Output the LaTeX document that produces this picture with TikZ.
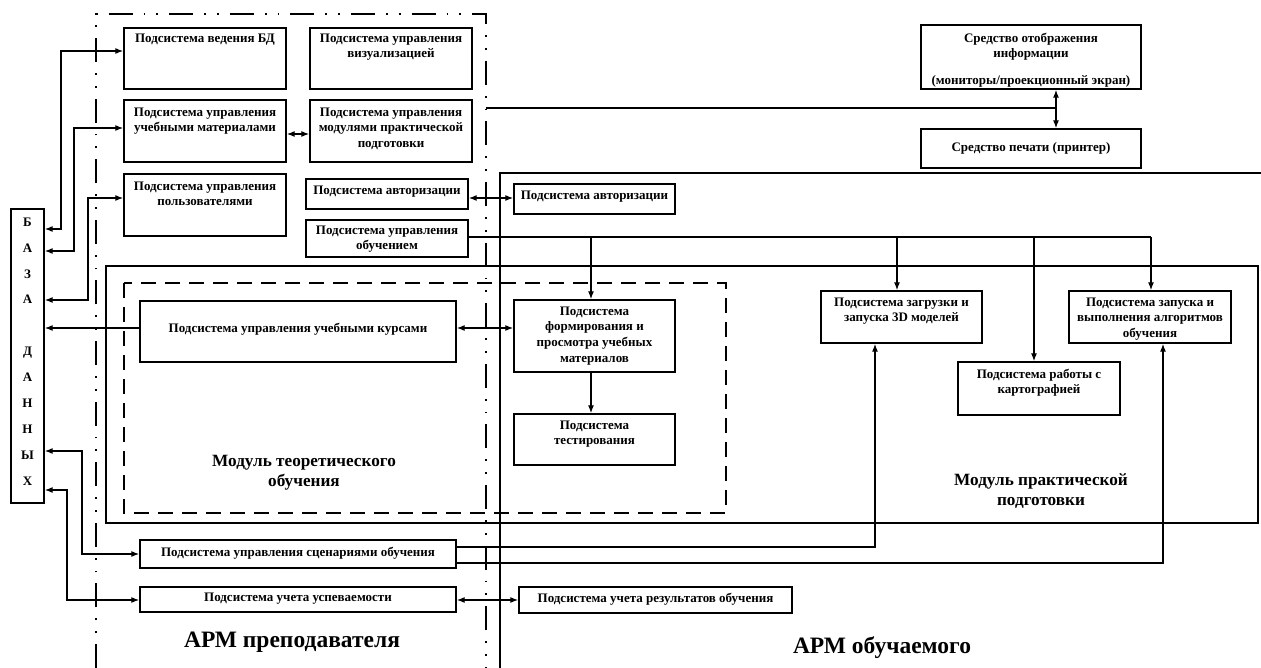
\documentclass[tikz,border=0pt]{standalone}
\usepackage{fontspec}
\setmainfont{Liberation Serif}
\usetikzlibrary{arrows.meta}
\tikzset{
  box/.style={draw, line width=1.4pt, inner sep=0pt},
  txt/.style={font=\bfseries\fontsize{13}{15.7}\selectfont, align=center, inner sep=0pt},
  big/.style={font=\bfseries\fontsize{17.2}{20}\selectfont, align=center, inner sep=0pt},
  huge/.style={font=\bfseries\fontsize{23.5}{28}\selectfont, inner sep=0pt},
  conn/.style={line width=1.25pt, >={Latex[length=8pt,width=6pt]}},
  dashdotframe/.style={line width=1.3pt, dash pattern=on 24pt off 11pt on 1.8pt off 11pt on 1.8pt off 11pt},
  dashframe/.style={line width=1.6pt, dash pattern=on 15pt off 9pt},
  thickframe/.style={line width=2.8pt}
}
\newcommand\bx[7]{%
  \node[box, minimum width={(#4-#2)*1pt}, minimum height={(#5-#3)*1pt}] (#1) at ({(#2+#4)/2},{(#3+#5)/2}) {};
  \node[txt, anchor=north] (#1-t) at ({(#2+#4)/2},{#6-5.5}) {#7};}
\begin{document}
\begin{tikzpicture}[x=1pt, y=-1pt]
\useasboundingbox[fill=white] (0,0) rectangle (1261,668);

% frames
\draw[dashdotframe] (96,668) -- (96,14) -- (486,14) -- (486,668);
\draw[thickframe] (500,668) -- (500,173) -- (1261,173);
\draw[thickframe] (106,266) rectangle (1258,523);
\draw[dashframe] (124,283) rectangle (726,513);

% database
\node[box, minimum width=33pt, minimum height=294pt] (db) at (27.5,356) {};
\node[txt, anchor=north, font=\bfseries\fontsize{13}{25.9}\selectfont] (db-t) at (27.5,217.5)
  {Б\\А\\З\\А\\ \\Д\\А\\Н\\Н\\Ы\\Х};

% teacher boxes
\bx{bd}{124}{28}{286}{89}{39}{Подсистема ведения БД}
\bx{vis}{310}{28}{472}{89}{39}{Подсистема управления\\визуализацией}
\bx{mat}{124}{100}{286}{162}{113}{Подсистема управления\\учебными материалами}
\bx{mod}{310}{100}{472}{162}{113}{Подсистема управления\\модулями практической\\подготовки}
\bx{usr}{124}{174}{286}{236}{187}{Подсистема управления\\пользователями}
\bx{authL}{306}{179}{468}{209}{191}{Подсистема авторизации}
\bx{uo}{306}{220}{468}{257}{231}{Подсистема управления\\обучением}
\bx{crs}{140}{301}{456}{362}{328}{Подсистема управления учебными курсами}
\bx{scn}{140}{540}{456}{568}{552}{Подсистема управления сценариями обучения}
\bx{usp}{140}{587}{456}{612}{598}{Подсистема учета успеваемости}

% output devices
\bx{disp}{921}{25}{1141}{89}{38}{Средство отображения\\информации\\[11pt](мониторы/проекционный экран)}
\bx{prn}{921}{129}{1141}{168}{148}{Средство печати (принтер)}

% student boxes
\bx{authR}{514}{184}{675}{214}{196}{Подсистема авторизации}
\bx{form}{514}{300}{675}{372}{312}{Подсистема\\формирования и\\просмотра учебных\\материалов}
\bx{test}{514}{414}{675}{465}{426}{Подсистема\\тестирования}
\bx{m3d}{821}{291}{982}{343}{303}{Подсистема загрузки и\\запуска 3D моделей}
\bx{alg}{1069}{291}{1231}{343}{303}{Подсистема запуска и\\выполнения алгоритмов\\обучения}
\bx{cart}{958}{362}{1120}{415}{374}{Подсистема работы с\\картографией}
\bx{res}{519}{587}{792}{613}{598}{Подсистема учета результатов обучения}

% labels
\node[big, anchor=north] (lt) at (304,455) {Модуль теоретического\\обучения};
\node[big, anchor=north] (lp) at (1041,473) {Модуль практической\\подготовки};
\node[huge, anchor=base] (la) at (292,647) {АРМ преподавателя};
\node[huge, anchor=base] (lb) at (882,653) {АРМ обучаемого};

% connectors to database
\draw[conn,<->] (db.east |- 0,229) -- (61,229) |- (bd.west |- 0,51);
\draw[conn,<->] (db.east |- 0,251) -- (74,251) |- (mat.west |- 0,128);
\draw[conn,<->] (db.east |- 0,300) -- (88,300) |- (usr.west |- 0,198);
\draw[conn,->] (crs.west |- 0,328) -- (db.east |- 0,328);
\draw[conn,<->] (db.east |- 0,451) -- (82,451) |- (scn.west |- 0,554);
\draw[conn,<->] (db.east |- 0,490) -- (67,490) |- (usp.west |- 0,600);

% internal connectors
\draw[conn,<->] (mat.east |- 0,134) -- (mod.west |- 0,134);
\draw[conn,<->] (authL.east |- 0,198) -- (authR.west |- 0,198);
\draw[conn,<->] (crs.east |- 0,328) -- (form.west |- 0,328);
\draw[conn,<->] (usp.east |- 0,600) -- (res.west |- 0,600);
\draw[conn,->] (form.south -| 591,0) -- (test.north -| 591,0);

% learning control bus
\coordinate (busE) at (1151,237);
\draw[conn] (uo.east |- busE) -- (busE);
\draw[conn,->] (busE -| 591,0) -- (form.north -| 591,0);
\draw[conn,->] (busE -| 897,0) -- (m3d.north -| 897,0);
\draw[conn,->] (busE -| 1034,0) -- (cart.north -| 1034,0);
\draw[conn,->] (busE) -- (alg.north -| busE);

% scenarios
\draw[conn,->] (scn.east |- 0,547) -| (m3d.south -| 875,0);
\draw[conn,->] (scn.east |- 0,563) -| (alg.south -| 1163,0);

% display
\coordinate (armR) at (486,108);
\draw[conn] (armR) -- (armR -| 1056,0);
\draw[conn,<->] (disp.south -| 1056,0) -- (prn.north -| 1056,0);
\end{tikzpicture}
\end{document}
